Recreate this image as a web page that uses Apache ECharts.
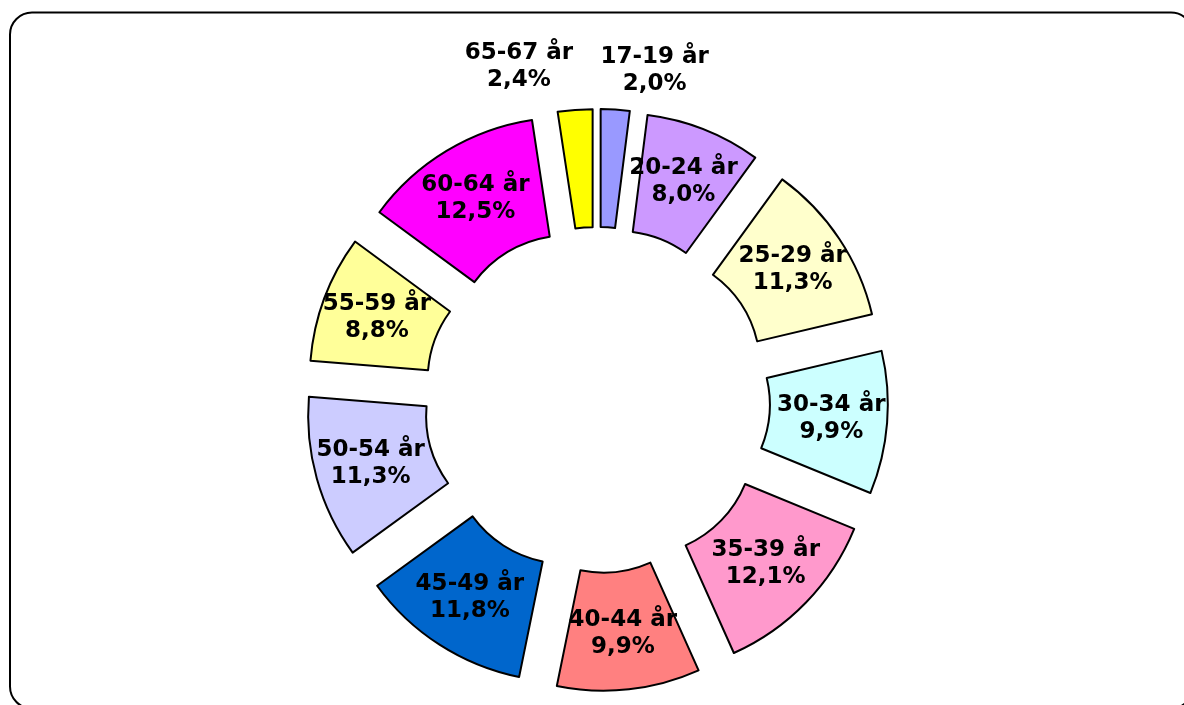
<!DOCTYPE html>
<html>
<head>
<meta charset="utf-8">
<script src="https://cdn.jsdelivr.net/npm/echarts@6/dist/echarts.min.js"></script>
<style>
html,body{margin:0;padding:0;background:#fff;}
#chart{width:1184px;height:705px;}
</style>
</head>
<body>
<div id="chart"></div>
<script>
// aldersfordeling
var ageGroups = ['17-19 år','20-24 år','25-29 år','30-34 år','35-39 år','40-44 år','45-49 år','50-54 år','55-59 år','60-64 år','65-67 år'];
var shares = [2.0, 8.0, 11.3, 9.9, 12.1, 9.9, 11.8, 11.3, 8.8, 12.5, 2.4];
var sliceColors = ['#9999FF','#CC99FF','#FFFFCC','#CCFFFF','#FF99CC','#FF8080','#0066CC','#CCCCFF','#FFFF99','#FF00FF','#FFFF00'];

function pct(v){
	return v.toFixed(1).replace('.', ',') + '%';
}

// the two thin slices get their label above the ring
var outerLines = {
	'17-19 år': {length: 39, length2: -24},
	'65-67 år': {length: 43, length2: -8}
};

var pieData = [];
for (var i = 0; i < ageGroups.length; i++) {
	var item = {
		name: ageGroups[i],
		value: shares[i],
		selected: true,
		itemStyle: {color: sliceColors[i]}
	};
	if (outerLines[ageGroups[i]]) {
		item.label = {
			position: 'outside',
			formatter: function(p){ return '{t|' + p.name + '}\n{t|' + pct(p.value) + '}'; }
		};
		item.labelLine = {show: false, length: outerLines[ageGroups[i]].length, length2: outerLines[ageGroups[i]].length2};
	}
	pieData.push(item);
}

var myChart = echarts.init(document.getElementById('chart'));
myChart.setOption({
	animation: false,
	backgroundColor: '#fff',
	graphic: [{
		type: 'rect',
		silent: true,
		shape: {x: 10, y: 12.5, width: 1183, height: 696, r: 22},
		style: {fill: 'none', stroke: '#000', lineWidth: 2}
	}],
	series: [{
		type: 'pie',
		center: [597, 400],
		radius: [115, 233],
		startAngle: 90,
		clockwise: true,
		avoidLabelOverlap: false,
		selectedMode: 'multiple',
		selectedOffset: 58,
		itemStyle: {borderColor: '#000', borderWidth: 2},
		select: {itemStyle: {borderColor: '#000', borderWidth: 2}},
		emphasis: {disabled: true},
		label: {
			show: true,
			position: 'inside',
			color: '#000',
			fontFamily: 'DejaVu Sans',
			fontWeight: 'bold',
			fontSize: 23,
			textBorderWidth: 0,
			formatter: function(p){ return '{a|' + p.name + '}\n{a|' + pct(p.value) + '}'; },
			rich: {
				a: {color: '#000', fontFamily: 'DejaVu Sans', fontWeight: 'bold', fontSize: 23, lineHeight: 27},
				t: {width: 112, align: 'center', color: '#000', fontFamily: 'DejaVu Sans', fontWeight: 'bold', fontSize: 23, lineHeight: 27}
			}
		},
		labelLine: {show: false},
		data: pieData
	}]
});
</script>
</body>
</html>
